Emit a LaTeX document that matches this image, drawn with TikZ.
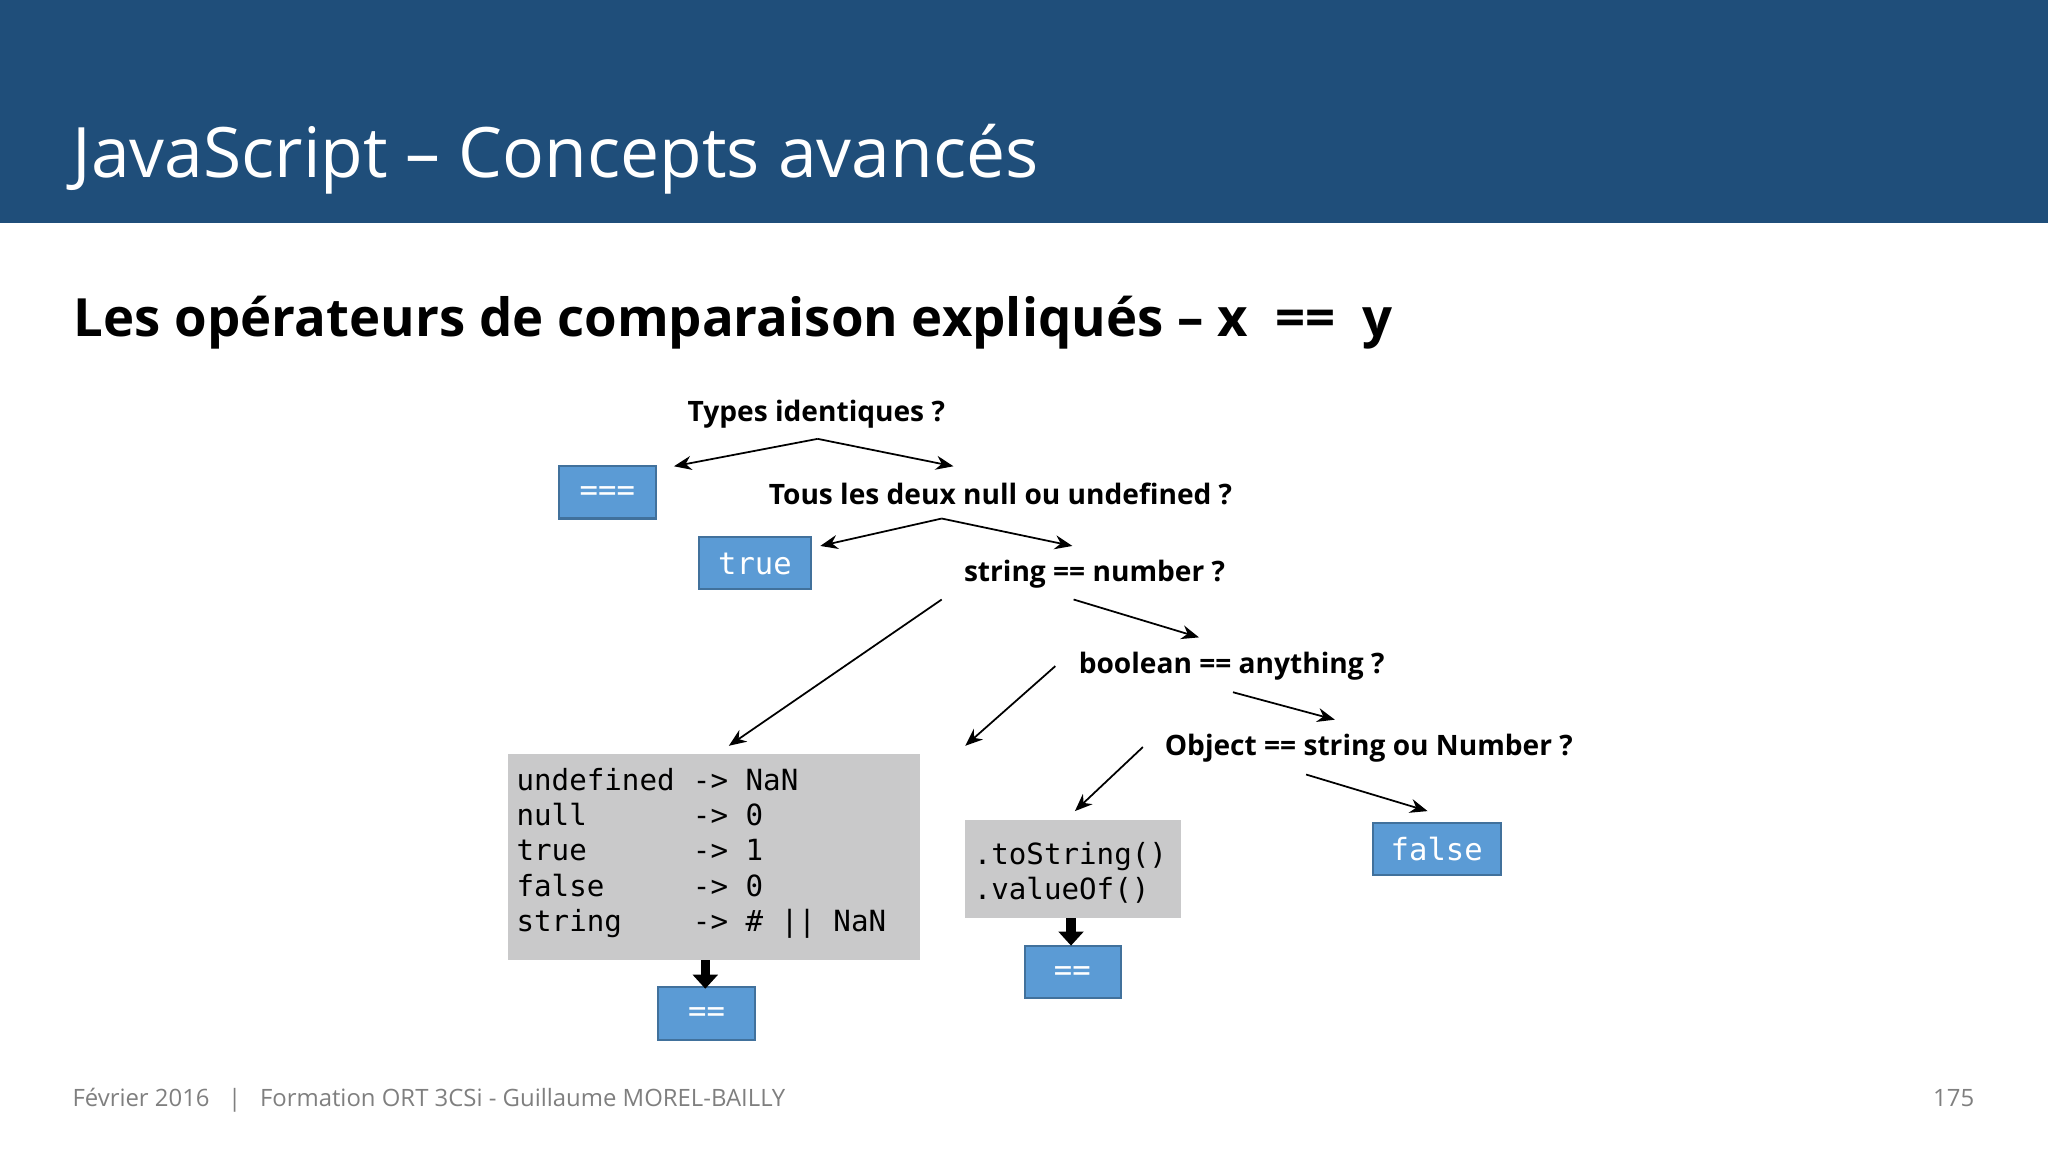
\documentclass[tikz,border=0pt]{standalone}
\usepackage{fontspec}
\setmainfont{Open Sans}
\setmonofont{DejaVu Sans Mono}
\usetikzlibrary{arrows.meta}
\definecolor{band}{HTML}{1F4E7A}
\definecolor{bluebox}{HTML}{5B9BD5}
\definecolor{blueedge}{HTML}{41719C}
\definecolor{graybox}{HTML}{C9C9CA}
\definecolor{foot}{HTML}{7F7F7F}
\begin{document}
\begin{tikzpicture}[x=0.013061cm,y=-0.013061cm,
  q/.style={font=\fontsize{8.0}{10}\selectfont\bfseries, inner sep=1pt},
  ar/.style={-{Stealth[length=5pt,width=4pt]}, line width=0.5pt},
  thick/.style={-{Triangle[length=4pt,width=7pt]}, line width=2.6pt},
  bb/.style={draw=blueedge, fill=bluebox, line width=0.6pt},
  bt/.style={text=white, font=\fontsize{8.7}{10}\ttfamily},
  cd/.style={anchor=base west, font=\fontsize{8.3}{10}\ttfamily, inner sep=0}]
\useasboundingbox (0,0) rectangle (1568,882);
\fill[band] (0,0) rectangle (1568,171);
\node[anchor=base west, text=white, font=\fontsize{19.8}{24}\selectfont, inner sep=0] (title) at (55,136) {JavaScript – Concepts avancés};
\node[anchor=base west, font=\fontsize{15}{18}\selectfont\bfseries, inner sep=0] (sub) at (56,258) {Les opérateurs de comparaison expliqués – x \ == \ y};

\node[q] (t1) at (625,317) {Types identiques ?};
\node[q] (t2) at (766,378) {Tous les deux null ou undefined ?};
\node[q] (t3) at (838,440) {string == number ?};
\node[q] (t4) at (943,510) {boolean == anything ?};
\node[q] (t5) at (1048,573) {Object == string ou Number ?};

\draw[bb] (428,357) rectangle (502,397);
\node[bt] (eq3t) at (465,378) {===};
\draw[bb] (535,411) rectangle (621,451);
\node[bt] (tr) at (578,432) {true};
\draw[bb] (1051,630) rectangle (1149,670);
\node[bt] (fa) at (1100,650) {false};
\draw[bb] (504,756) rectangle (578,796);
\node[bt] (eqa) at (541,777) {==};
\draw[bb] (785,724) rectangle (858,764);
\node[bt] (eqb) at (821,745) {==};

\fill[graybox] (389,577) rectangle (704,735);
\fill[graybox] (739,628) rectangle (904,703);
\foreach \t/\r [count=\i from 0] in {undefined/NaN, null/0, true/1, false/0, string/\# || NaN}{
  \node[cd] at (395,605+27*\i) {\t};
  \node[cd] at (530,605+27*\i) {-> \r};
}
\node[cd] (c1) at (745,662) {.toString()};
\node[cd] (c2) at (745,689) {.valueOf()};

\coordinate (a1) at (626,336);
\draw[ar] (a1) -- (516,357);
\draw[ar] (a1) -- (730,357);
\coordinate (a2) at (721,397);
\draw[ar] (a2) -- (628,418);
\draw[ar] (a2) -- (821,418);
\draw[ar] (721,459) -- (558,571);
\draw[ar] (822,459) -- (918,488);
\draw[ar] (808,510) -- (739,571);
\draw[ar] (944,530) -- (1022,551);
\draw[ar] (875,572) -- (823,621);
\draw[ar] (1000,593) -- (1093,621);
\draw[thick] (540,735) -- (540,757);
\draw[thick] (820,703) -- (820,724);

\node[anchor=base west, text=foot, font=\fontsize{6.8}{8}\selectfont, inner sep=0] (f1) at (55,847) {Février 2016 \ \ | \ \ Formation ORT 3CSi - Guillaume MOREL-BAILLY};
\node[anchor=base east, text=foot, font=\fontsize{6.8}{8}\selectfont, inner sep=0] (f2) at (1512,847) {175};
\end{tikzpicture}
\end{document}
